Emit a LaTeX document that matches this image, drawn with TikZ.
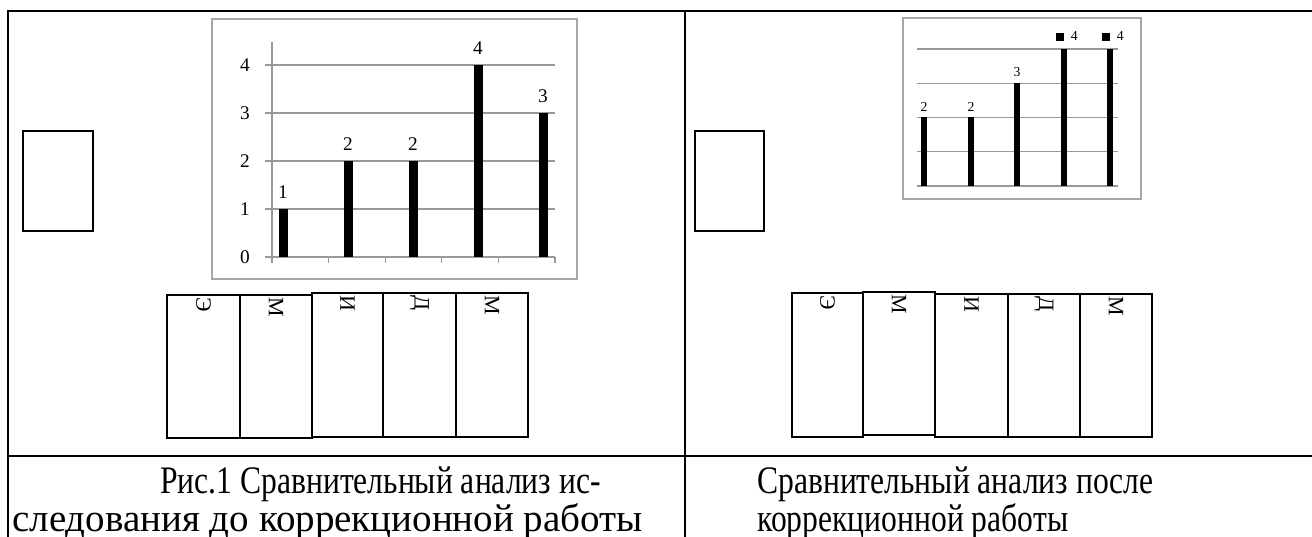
\documentclass[tikz,border=0pt]{standalone}
\usepackage{fontspec}
\setmainfont{Liberation Serif}
\newfontfamily\capfont[FakeStretch=0.81]{Liberation Serif}
\begin{document}
\begin{tikzpicture}[x=0.02cm, y=-0.02cm,
    tablerule/.style={line width=1.3pt},
    chartframe/.style={draw=black!35, line width=0.6pt},
    gridline/.style={draw=black!40, line width=0.6pt},
    bigval/.style={font=\fontsize{11}{12}\selectfont, inner sep=0pt},
    smallval/.style={font=\fontsize{7.8}{9}\selectfont, inner sep=0pt},
    cellbox/.style={line width=1pt},
    letter/.style={font=\fontsize{12.5}{14}\selectfont, rotate=-90, anchor=west, inner sep=0pt},
    caption/.style={font=\capfont\fontsize{22.2}{26}\selectfont, anchor=base west, inner sep=0pt},
    widecaption/.style={caption, font=\rmfamily\fontsize{22.2}{26}\selectfont}]
    \useasboundingbox (0,0) rectangle (1312,537);
    % table
    \draw[tablerule] (8,537) -- (8,11) -- (1312,11);
    \draw[tablerule] (685,11) -- (685,537);
    \draw[tablerule] (8,456) -- (1312,456);
    % small empty boxes
    \draw[line width=1.1pt] (23,131) rectangle (93,231);
    \draw[line width=1.1pt] (695,131) rectangle (764,231);
    % left chart
    \draw[chartframe] (212,19) rectangle (577,279);
    \foreach \v in {0,...,4} {
        \draw[gridline] (265,257-48*\v) -- (555,257-48*\v);
        \node[bigval] (ly\v) at (245,257-48*\v) {\v};
    }
    \draw[gridline] (272,42) -- (272,263);
    \foreach \x in {328.6,385.2,441.8,498.4,555} {
        \draw[gridline] (\x,257) -- (\x,263);
    }
    \foreach \c/\v [count=\i] in {283/1,348/2,413/2,478/4,543/3} {
        \fill (\c-4.5,257) rectangle (\c+4.5,257-48*\v);
        \node[bigval] (lb\i) at (\c,240-48*\v) {\v};
    }
    % right chart
    \draw[chartframe] (903,18) rectangle (1141,199);
    \foreach \v in {0,...,4} {
        \draw[gridline] (917,186-34.25*\v) -- (1118,186-34.25*\v);
    }
    \foreach \c/\v [count=\i] in {924/2,971/2,1017/3} {
        \fill (\c-3,186) rectangle (\c+3,186-34.25*\v);
        \node[smallval] (rb\i) at (\c,175-34.25*\v) {\v};
    }
    \foreach \c [count=\i from 4] in {1064,1110} {
        \fill (\c-3,186) rectangle (\c+3,49);
        \node[smallval] (rb\i) at (\c+3,36) {\rule{4.5pt}{4.5pt}\enspace4};
    }
    % letter columns
    \foreach \xa/\ya/\xb/\yb/\t [count=\i] in {167/295/240/438/Э,240/295/312/438/М,
        312/293/383/437/И,383/293/456/437/Д,456/293/528/437/М} {
        \draw[cellbox] (\xa,\ya) rectangle (\xb,\yb);
        \node[letter] (ll\i) at ({(\xa+\xb)/2},\ya+2) {\t};
    }
    \foreach \xa/\ya/\xb/\yb/\t [count=\i] in {792/293/863/437/Э,863/292/935/435/М,
        935/294/1008/437/И,1008/294/1080/437/Д,1080/294/1152/437/М} {
        \draw[cellbox] (\xa,\ya) rectangle (\xb,\yb);
        \node[letter] (rl\i) at ({(\xa+\xb)/2},\ya+2) {\t};
    }
    % captions
    \node[caption] (capl1) at (160,493) {Рис.1 Сравнительный анализ ис-};
    \node[widecaption] (capl2) at (12,531) {следования до коррекционной работы};
    \node[caption] (capr1) at (757,493) {Сравнительный анализ после};
    \node[caption] (capr2) at (757,531) {коррекционной работы};
\end{tikzpicture}
\end{document}
